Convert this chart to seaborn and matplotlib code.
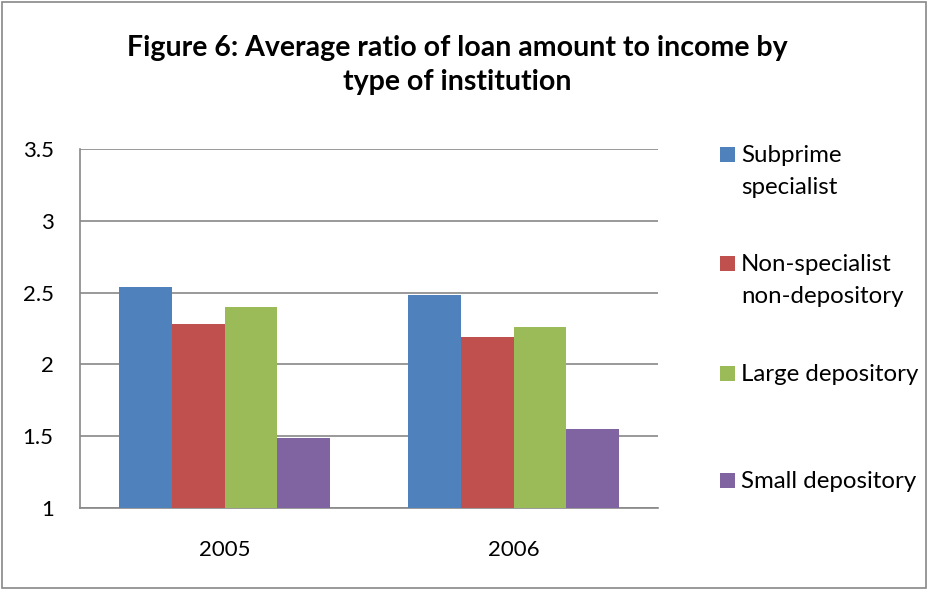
import pandas as pd
import matplotlib
matplotlib.use("Agg")
import matplotlib.pyplot as plt
import matplotlib.patches as mpatches
import seaborn as sns

# ---- data ----
years = ["2005", "2006"]
institution_types = ["Subprime specialist", "Non-specialist non-depository",
                     "Large depository", "Small depository"]
legend_labels = ["Subprime\nspecialist", "Non-specialist\nnon-depository",
                 "Large depository", "Small depository"]
ratio_2005 = [2.54, 2.28, 2.40, 1.49]
ratio_2006 = [2.48, 2.19, 2.26, 1.55]
y_ticks = [1, 1.5, 2, 2.5, 3, 3.5]
y_tick_labels = ["1", "1.5", "2", "2.5", "3", "3.5"]

colors = ["#4F81BD", "#C0504D", "#9BBB59", "#8064A2"]

df = pd.DataFrame({
    "year": [y for y in years for _ in institution_types],
    "type": institution_types * len(years),
    "ratio": ratio_2005 + ratio_2006,
})

sns.set_theme(style="white")
plt.rcParams["font.family"] = ["Lato", "DejaVu Sans"]
plt.rcParams["text.color"] = "black"
plt.rcParams["xtick.labelcolor"] = "black"
plt.rcParams["ytick.labelcolor"] = "black"

W, H = 929, 590
fig = plt.figure(figsize=(W / 100, H / 100), dpi=100)
ax = fig.add_axes([80 / W, 82 / H, 578 / W, 359 / H])

sns.barplot(data=df, x="year", y="ratio", hue="type", order=years,
            hue_order=institution_types, palette=colors, width=0.727,
            linewidth=0, saturation=1, legend=False, ax=ax, zorder=3)

ax.set_ylim(1, 3.5)
ax.set_xlim(-0.5, 1.5)
ax.set_yticks(y_ticks)
ax.set_yticklabels(y_tick_labels, fontsize=16)
ax.set_xticks([0, 1])
ax.set_xticklabels(years, fontsize=16)
ax.set_xticks([-0.5, 0.5, 1.5], minor=True)
ax.tick_params(axis="x", which="major", length=0, pad=23)
ax.tick_params(axis="x", which="minor", length=6, width=1.2, color="#888888", direction="out")
ax.tick_params(axis="y", length=6, width=1.2, color="#888888", direction="out", pad=13)
ax.set_xlabel("")
ax.set_ylabel("")
ax.grid(axis="y", color="#888888", linewidth=1.2, zorder=0)
ax.set_axisbelow(True)
for side in ["top", "right"]:
    ax.spines[side].set_visible(False)
for side in ["left", "bottom"]:
    ax.spines[side].set_color("#888888")
    ax.spines[side].set_linewidth(1.2)

# title
fig.text(457 / W, 1 - 65 / H, "Figure 6: Average ratio of loan amount to income by\ntype of institution",
         ha="center", va="center", fontsize=20.5, fontweight="bold", linespacing=1.38)

# legend drawn in figure coordinates (Excel style: square aligned with first line)
legend_baselines = [162, 271, 381, 488]
for lab, col, base in zip(legend_labels, colors, legend_baselines):
    fig.patches.append(mpatches.Rectangle((720 / W, 1 - base / H), 15 / W, 15 / H,
                                          transform=fig.transFigure, facecolor=col, edgecolor="none"))
    for k, line in enumerate(lab.split("\n")):
        fig.text(741 / W, 1 - (base + 32 * k) / H, line, ha="left", va="baseline", fontsize=17.3)

# outer border
fig.patches.append(mpatches.Rectangle((0.002, 0.003), 0.995, 0.994, transform=fig.transFigure,
                                      facecolor="none", edgecolor="#888888", linewidth=1.2))

fig.savefig("out.png", dpi=100)
